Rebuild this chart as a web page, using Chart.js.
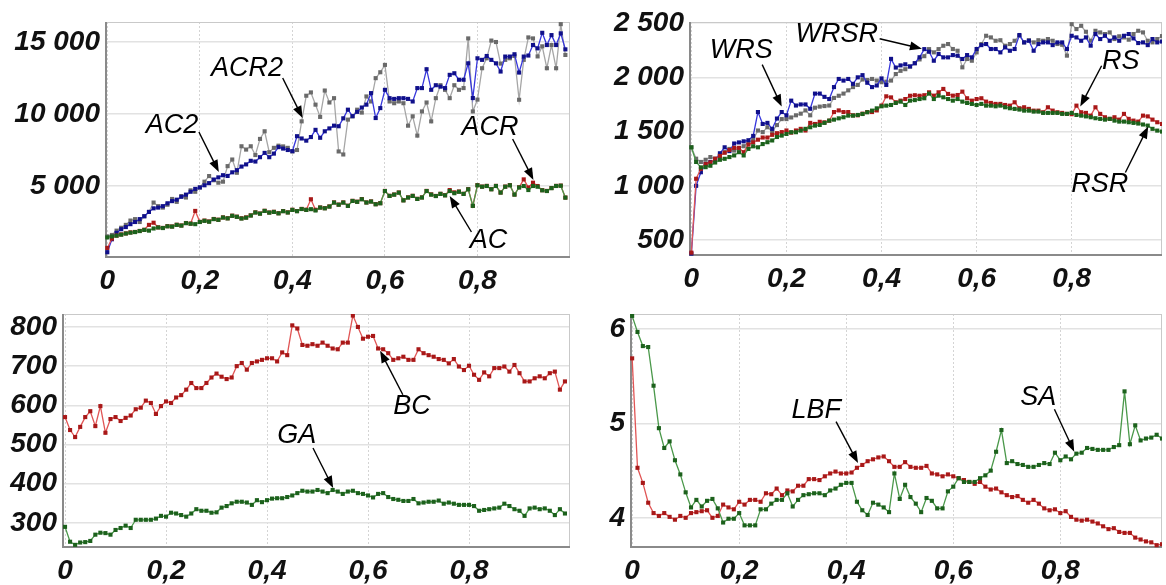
<!DOCTYPE html>
<html>
<head>
<meta charset="utf-8">
<script src="https://cdn.jsdelivr.net/npm/chart.js@4.4.1/dist/chart.umd.min.js"></script>
<style>
  html, body { margin: 0; padding: 0; background: #fff; }
  body { width: 1166px; height: 585px; position: relative; overflow: hidden; }
  canvas { position: absolute; }
</style>
</head>
<body>
<canvas id="p1" width="580" height="300" style="left:0;top:0"></canvas>
<canvas id="p2" width="583" height="300" style="left:583px;top:0"></canvas>
<canvas id="p3" width="580" height="293" style="left:0;top:292px"></canvas>
<canvas id="p4" width="583" height="293" style="left:583px;top:292px"></canvas>
<script>
// x positions: 100 samples, step 0.01
const xVals = Array.from({ length: 100 }, (_, i) => i / 100);
const xTicks = [0, 0.2, 0.4, 0.6, 0.8];

// top-left panel
const p1AC2 = [400,1300,1750,2000,2150,2350,2500,2700,2900,3200,
  3450,3500,3600,3800,3950,4050,4250,4400,4600,4800,
  4900,5050,5200,5450,5600,5750,5700,5950,6100,6350,
  6500,6750,6700,7000,7300,7000,7250,7700,7600,7500,
  7420,8460,8300,8150,8400,8900,8350,8800,9000,9190,
  9150,9700,10300,9850,10150,10450,10650,11450,9720,10410,
  11680,11100,11050,11100,11100,11050,10870,11800,11800,13110,
  11680,12000,11900,11800,12720,12830,12380,12380,13520,11110,
  13870,13760,14030,13760,13520,12950,13990,13990,14150,12880,
  13990,14060,14790,14560,15640,14790,15480,14790,15600,14490];
const p1ACR2 = [1500,1600,1900,2100,2300,2600,2700,2500,2900,3200,
  3850,3600,3500,3700,4100,3900,4300,4200,4700,4600,
  4900,5300,5690,5400,5230,5300,6380,6840,5920,7760,
  7530,7760,7150,8270,8800,7350,7650,7800,7750,7650,
  7400,7500,9490,11270,11500,10650,9800,11630,10800,11100,
  7400,7190,9610,9840,10300,10100,11220,10870,12490,12900,
  13410,10870,10750,10870,10750,9190,9840,8500,10180,10800,
  9490,11100,12000,11680,11100,12000,11680,11800,15250,10180,
  11000,13180,13870,15100,15000,13500,13760,13870,14030,10990,
  13760,15320,15250,14000,14700,13180,14790,13180,16240,14100];
const p1ACR = [700,1350,1560,1640,1710,1780,1810,1880,1960,2300,
  2450,2130,2090,2210,2190,2310,2260,2430,2390,3270,
  2510,2600,2540,2710,2660,2820,2760,2940,2870,2760,
  2820,2960,3170,3090,3280,3160,3210,3110,3260,3170,
  3350,3260,3410,3350,4080,3350,3510,3460,3580,3860,
  3710,3860,3630,3970,3910,4090,3860,3930,3740,3810,
  4660,4320,4410,4550,4010,4210,4320,4110,4210,4660,
  4420,4310,4460,4360,4720,4560,4620,4460,4780,3630,
  5060,4960,5010,4780,5010,4550,4960,5060,4410,4910,
  5460,4900,5230,5000,4710,4660,4860,5010,5030,4200];
const p1AC = [1430,1500,1550,1620,1700,1760,1800,1870,1950,1900,
  2050,2120,2080,2200,2180,2300,2250,2420,2380,2350,
  2500,2580,2520,2700,2650,2810,2750,2930,2860,2740,
  2800,2950,3160,3080,3270,3150,3200,3100,3250,3160,
  3340,3250,3400,3340,3390,3300,3500,3450,3570,3850,
  3700,3850,3620,3960,3900,4080,3850,3920,3730,3800,
  4650,4310,4400,4540,4000,4200,4310,4100,4200,4650,
  4400,4300,4450,4350,4650,4500,4600,4450,4770,3620,
  5050,4950,5000,4770,5000,4540,4950,5050,4400,4900,
  5000,4720,5000,4950,4700,4650,4850,5000,5020,4190];

// top-right panel
const p2WRS = [375,1000,1125,1200,1220,1235,1300,1355,1320,1390,
  1400,1410,1420,1460,1680,1570,1580,1525,1620,1680,
  1650,1785,1740,1750,1750,1710,1850,1850,1820,1800,
  1910,1985,1970,1985,1940,2000,2020,1950,1910,1925,
  1990,1930,2170,2090,2110,2120,2100,2130,2185,2260,
  2236,2153,2215,2184,2184,2205,2199,2169,2205,2184,
  2261,2297,2307,2261,2261,2230,2276,2245,2261,2390,
  2322,2337,2245,2307,2322,2322,2297,2322,2322,2261,
  2383,2368,2337,2368,2292,2399,2353,2383,2337,2368,
  2337,2383,2399,2359,2316,2322,2297,2353,2322,2330];
const p2WRSR = [1355,1250,1220,1240,1265,1250,1280,1310,1340,1325,
  1345,1365,1400,1425,1510,1495,1540,1500,1560,1615,
  1615,1630,1650,1665,1695,1650,1720,1730,1735,1740,
  1810,1830,1850,1880,1910,1930,1980,1975,1985,1970,
  1955,1960,1970,2030,2060,2075,2100,2130,2165,2195,
  2260,2230,2260,2291,2307,2261,2245,2092,2169,2153,
  2230,2307,2383,2368,2337,2342,2291,2307,2337,2383,
  2322,2342,2322,2342,2337,2353,2337,2307,2300,2200,
  2490,2445,2475,2420,2337,2429,2414,2399,2414,2353,
  2378,2368,2347,2399,2429,2414,2337,2322,2353,2380];
const p2RS = [384,1065,1157,1200,1215,1250,1275,1305,1330,1350,
  1350,1310,1380,1400,1425,1445,1445,1470,1485,1495,
  1510,1490,1510,1525,1510,1580,1570,1590,1585,1600,
  1680,1695,1680,1680,1650,1650,1665,1680,1680,1695,
  1740,1825,1815,1770,1785,1800,1830,1835,1830,1835,
  1862,1831,1862,1893,1847,1831,1837,1868,1807,1785,
  1800,1807,1776,1764,1755,1755,1745,1739,1770,1715,
  1724,1709,1693,1693,1678,1724,1693,1678,1672,1663,
  1660,1739,1678,1672,1647,1724,1663,1632,1617,1632,
  1610,1663,1617,1601,1592,1647,1640,1610,1586,1570];
const p2RSR = [1355,1220,1170,1172,1185,1215,1240,1249,1265,1280,
  1310,1280,1340,1364,1355,1385,1402,1418,1450,1463,
  1478,1494,1494,1509,1525,1540,1555,1561,1580,1601,
  1610,1622,1632,1647,1647,1653,1662,1678,1693,1714,
  1733,1739,1745,1764,1776,1745,1785,1790,1800,1807,
  1850,1800,1831,1816,1800,1785,1800,1776,1764,1755,
  1745,1755,1739,1739,1733,1739,1724,1715,1709,1703,
  1693,1693,1684,1684,1672,1672,1672,1672,1663,1663,
  1672,1653,1647,1640,1632,1623,1617,1610,1617,1601,
  1592,1592,1586,1580,1574,1565,1555,1525,1509,1500];

// bottom-left panel
const p3BC = [570,537,519,545,570,585,547,598,530,565,
  570,560,568,574,590,594,612,606,578,598,
  610,606,620,626,640,657,644,644,657,671,
  681,673,667,671,700,708,691,708,712,716,
  720,720,712,735,728,804,796,754,752,756,
  752,760,752,745,743,760,760,829,800,770,
  775,777,745,743,733,716,720,724,716,716,
  743,733,728,724,718,716,707,718,699,690,
  701,678,665,684,674,695,695,699,686,703,
  682,661,661,669,674,669,682,686,640,661];
const p3GA = [290,252,244,250,251,254,270,275,274,270,
  282,287,293,287,308,308,308,308,311,318,
  316,326,324,320,316,324,335,331,331,326,
  327,339,343,350,354,354,352,346,358,353,
  358,362,363,363,366,370,376,382,380,380,
  384,380,376,384,380,374,380,382,376,374,
  370,365,374,376,366,361,359,356,356,361,
  350,352,354,354,357,349,352,349,346,346,
  346,343,331,333,335,337,339,349,343,335,
  331,318,337,339,335,337,331,320,335,324];

// bottom-right panel
const p4LBF = [5.69,4.53,4.37,4.16,4.05,4.02,4.05,4.01,3.98,4.02,
  4.00,4.05,4.06,4.07,4.08,4.00,4.02,4.14,4.11,4.09,
  4.17,4.14,4.19,4.19,4.17,4.26,4.25,4.31,4.24,4.29,
  4.28,4.34,4.34,4.41,4.41,4.40,4.44,4.47,4.49,4.47,
  4.47,4.48,4.53,4.56,4.60,4.62,4.64,4.65,4.60,4.54,
  4.54,4.59,4.54,4.53,4.53,4.55,4.47,4.46,4.44,4.46,
  4.44,4.42,4.40,4.38,4.36,4.38,4.33,4.30,4.31,4.27,
  4.24,4.22,4.23,4.19,4.16,4.19,4.15,4.10,4.08,4.09,
  4.05,4.07,4.01,3.98,3.97,3.98,3.96,3.94,3.91,3.88,
  3.89,3.85,3.84,3.84,3.79,3.77,3.75,3.74,3.71,3.72];
const p4SA = [6.14,5.97,5.82,5.81,5.40,4.95,4.74,4.81,4.61,4.46,
  4.27,4.11,4.19,4.12,4.18,4.20,4.10,3.95,3.99,3.99,
  4.05,3.92,3.92,3.92,4.09,4.09,4.15,4.19,4.19,4.26,
  4.12,4.19,4.24,4.25,4.26,4.26,4.24,4.29,4.31,4.35,
  4.37,4.37,4.17,4.08,4.03,4.16,4.14,4.11,4.06,4.47,
  4.20,4.35,4.22,4.15,4.06,4.21,4.18,4.10,4.10,4.28,
  4.33,4.42,4.38,4.38,4.38,4.42,4.45,4.50,4.70,4.93,
  4.58,4.60,4.57,4.56,4.54,4.54,4.56,4.58,4.57,4.69,
  4.61,4.65,4.62,4.68,4.69,4.74,4.73,4.72,4.72,4.72,
  4.75,4.77,5.34,4.78,4.98,4.82,4.84,4.85,4.88,4.84];

const BLUE = { line: '#3636dc', dot: '#10108a' };
const GREY = { line: '#a6a6a6', dot: '#6a6a6a' };
const RED = { line: '#e05555', dot: '#a81818' };
const GREEN = { line: '#4a984a', dot: '#1c611c' };

const tickFont = { family: '"Liberation Sans", Arial, sans-serif', size: 28, weight: 'bold', style: 'italic' };
const noteFont = 'italic 27px "Liberation Sans", Arial, sans-serif';

function series(values, col) {
  return {
    data: values.map((y, i) => ({ x: xVals[i], y: y })),
    borderColor: col.line,
    backgroundColor: col.dot,
    pointBackgroundColor: col.dot,
    pointBorderWidth: 0,
    pointStyle: 'rect',
    pointRadius: 2.9,
    borderWidth: 1.3,
    tension: 0
  };
}

const fmtY = v => v >= 1000 ? Math.floor(v / 1000) + ' ' + String(v % 1000).padStart(3, '0') : String(v);
const fmtX = v => v === 0 ? '0' : v.toFixed(1).replace('.', ',');

function arrow(ctx, x1, y1, x2, y2) {
  const a = Math.atan2(y2 - y1, x2 - x1), L = 12, W = 4.5;
  ctx.beginPath();
  ctx.moveTo(x1, y1);
  ctx.lineTo(x2 - L * 0.8 * Math.cos(a), y2 - L * 0.8 * Math.sin(a));
  ctx.stroke();
  ctx.beginPath();
  ctx.moveTo(x2, y2);
  ctx.lineTo(x2 - L * Math.cos(a) + W * Math.sin(a), y2 - L * Math.sin(a) - W * Math.cos(a));
  ctx.lineTo(x2 - L * Math.cos(a) - W * Math.sin(a), y2 - L * Math.sin(a) + W * Math.cos(a));
  ctx.closePath();
  ctx.fill();
}

// frame around plot + text labels with arrows
const decor = {
  id: 'decor',
  beforeDatasetsDraw(chart) {
    const { ctx, chartArea: a } = chart;
    ctx.save();
    ctx.strokeStyle = '#c9c9c9';
    ctx.lineWidth = 1;
    ctx.strokeRect(a.left + 0.5, a.top + 0.5, a.width - 1, a.height - 1);
    ctx.strokeStyle = '#8a8a8a';
    ctx.lineWidth = 2;
    ctx.beginPath();
    ctx.moveTo(a.left + 1, a.top);
    ctx.lineTo(a.left + 1, a.bottom - 1);
    ctx.lineTo(a.right, a.bottom - 1);
    ctx.stroke();
    ctx.restore();
  },
  afterDatasetsDraw(chart, args, opts) {
    const { ctx, scales: { x, y } } = chart;
    ctx.save();
    ctx.fillStyle = '#000';
    ctx.strokeStyle = '#000';
    ctx.lineWidth = 1.4;
    ctx.font = noteFont;
    ctx.textAlign = 'center';
    ctx.textBaseline = 'middle';
    (opts.notes || []).forEach(n => {
      ctx.fillText(n.text, x.getPixelForValue(n.at[0]), y.getPixelForValue(n.at[1]));
      arrow(ctx, x.getPixelForValue(n.from[0]), y.getPixelForValue(n.from[1]),
        x.getPixelForValue(n.to[0]), y.getPixelForValue(n.to[1]));
    });
    ctx.restore();
  }
};

// first dataset in the list ends up drawn on top
function makeChart(id, cfg) {
  return new Chart(document.getElementById(id), {
    type: 'line',
    data: { datasets: cfg.datasets },
    plugins: [decor],
    options: {
      responsive: false,
      animation: false,
      devicePixelRatio: 1,
      layout: { padding: cfg.padding },
      plugins: { legend: { display: false }, tooltip: { enabled: false }, decor: { notes: cfg.notes } },
      scales: {
        x: {
          type: 'linear', min: cfg.xMin, max: cfg.xMax,
          afterBuildTicks: s => { s.ticks = xTicks.map(v => ({ value: v })); },
          afterFit: s => { s.height = cfg.xHeight; },
          grid: { color: '#d4d4d4', lineWidth: 1, drawTicks: false },
          border: { display: false, dash: [2, 2] },
          ticks: { font: tickFont, color: '#111', padding: 6, autoSkip: false, maxRotation: 0, callback: fmtX }
        },
        y: {
          min: cfg.yMin, max: cfg.yMax,
          afterBuildTicks: s => { s.ticks = cfg.yTicks.map(v => ({ value: v })); },
          afterFit: s => { s.width = cfg.yWidth; },
          grid: { color: '#e2e2e2', lineWidth: 1.5, drawTicks: false },
          border: { display: false },
          ticks: { font: tickFont, color: '#111', padding: 5, callback: fmtY }
        }
      }
    }
  });
}

makeChart('p1', {
  datasets: [series(p1AC, GREEN), series(p1ACR, RED), series(p1AC2, BLUE), series(p1ACR2, GREY)],
  xMin: -0.005, xMax: 1.0, yMin: 0, yMax: 16390, yTicks: [5000, 10000, 15000],
  yWidth: 105, xHeight: 42, padding: { top: 22, right: 10, left: 0, bottom: 0 },
  notes: [
    { text: 'ACR2', at: [0.302, 13195], from: [0.379, 12500], to: [0.422, 9723] },
    { text: 'AC2', at: [0.14, 9237], from: [0.198, 8751], to: [0.241, 5973] },
    { text: 'ACR', at: [0.827, 9098], from: [0.876, 8265], to: [0.921, 5417] },
    { text: 'AC', at: [0.824, 1250], from: [0.787, 1806], to: [0.74, 4306] }
  ]
});

makeChart('p2', {
  datasets: [series(p2RSR, GREEN), series(p2RS, RED), series(p2WRS, BLUE), series(p2WRSR, GREY)],
  xMin: -0.005, xMax: 0.99, yMin: 353, yMax: 2510, yTicks: [500, 1000, 1500, 2000, 2500],
  yWidth: 106, xHeight: 44, padding: { top: 22, right: 2, left: 0, bottom: 0 },
  notes: [
    { text: 'WRS', at: [0.105, 2245], from: [0.149, 2117], to: [0.19, 1730] },
    { text: 'WRSR', at: [0.306, 2392], from: [0.396, 2356], to: [0.485, 2264] },
    { text: 'RS', at: [0.903, 2144], from: [0.863, 2107], to: [0.818, 1730] },
    { text: 'RSR', at: [0.859, 1012], from: [0.913, 1123], to: [0.961, 1546] }
  ]
});

makeChart('p3', {
  datasets: [series(p3GA, GREEN), series(p3BC, RED)],
  xMin: -0.006, xMax: 1.0, yMin: 236, yMax: 833, yTicks: [300, 400, 500, 600, 700, 800],
  yWidth: 62, xHeight: 37, padding: { top: 22, right: 10, left: 0, bottom: 0 },
  notes: [
    { text: 'BC', at: [0.687, 596], from: [0.669, 627], to: [0.624, 739] },
    { text: 'GA', at: [0.459, 524], from: [0.491, 491], to: [0.531, 389] }
  ]
});

makeChart('p4', {
  datasets: [series(p4SA, GREEN), series(p4LBF, RED)],
  xMin: -0.004, xMax: 0.99, yMin: 3.68, yMax: 6.16, yTicks: [4, 5, 6],
  yWidth: 47, xHeight: 37, padding: { top: 22, right: 0, left: 0, bottom: 0 },
  notes: [
    { text: 'LBF', at: [0.344, 5.14], from: [0.381, 5.02], to: [0.422, 4.58] },
    { text: 'SA', at: [0.759, 5.28], from: [0.789, 5.15], to: [0.826, 4.70] }
  ]
});
</script>
</body>
</html>
